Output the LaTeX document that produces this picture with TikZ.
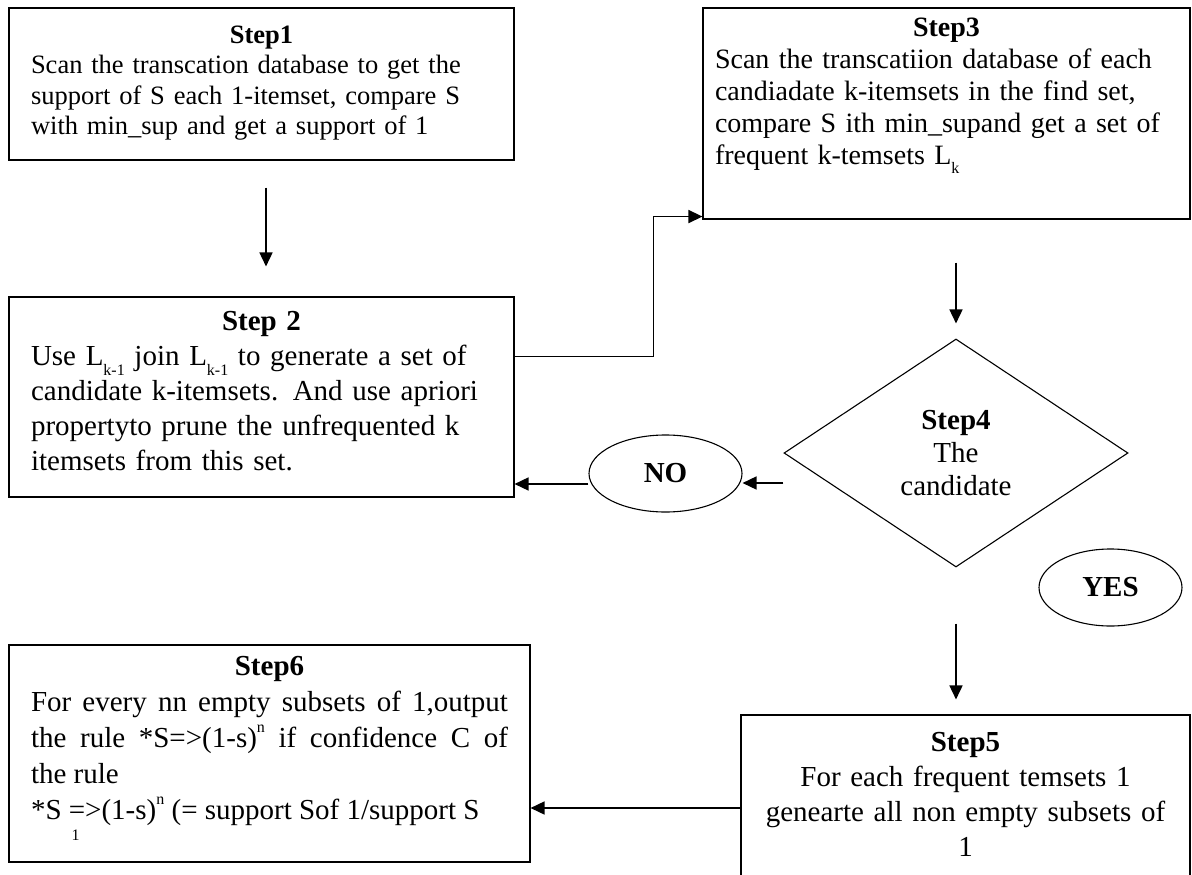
\documentclass[tikz,border=0pt]{standalone}
\usepackage{fontspec}
\setmainfont{Liberation Serif}
\usetikzlibrary{arrows.meta,positioning,shapes.geometric,calc}

\newcommand\boxfont{\fontsize{29}{33}\selectfont}
\newcommand\lsub[1]{\raisebox{-0.33em}{\fontsize{16}{16}\selectfont #1}}
\newcommand\supn{\raisebox{0.52em}{\fontsize{16}{16}\selectfont n}}
\newcommand\steptitle[1]{\hbox to \hsize{\hss\bfseries #1\hss}\\}

\tikzset{
  stepbox/.style={draw, rectangle, line width=1.1pt, inner sep=0pt},
  steptxt/.style={inner sep=0pt, font=\boxfont},
  answer/.style={draw, ellipse, line width=1.1pt, inner sep=0pt, font=\boxfont\bfseries},
  flow/.style={-{Triangle[length=14pt,width=13pt]}, line width=1.6pt},
}

\begin{document}
\begin{tikzpicture}[x=1pt, y=-1pt]
\clip (0,0) rectangle (1192,875);

% left column
\node[stepbox, minimum width=505pt, minimum height=152pt] (s1) at (261.5,84) {};
\node[steptxt, text width=461pt, align=left, font=\fontsize{26.5}{30.5}\selectfont,
      below=18pt of s1.north] (s1txt)
  {\steptitle{Step1}Scan the transcation database to get the\\
   support of S each 1-itemset, compare S\\
   with min\_sup and get a support of 1};

\node[stepbox, minimum width=505pt, minimum height=200pt] (s2) at (261.5,397) {};
\node[steptxt, text width=461pt, align=left, font=\fontsize{29}{35}\selectfont,
      below=15pt of s2.north] (s2txt)
  {\steptitle{Step 2}Use L\lsub{k-1} join L\lsub{k-1} to generate a set of\\
   candidate k-itemsets. And use apriori\\
   propertyto prune the unfrequented k\\
   itemsets from this set.};

\node[stepbox, minimum width=521pt, minimum height=217pt] (s6) at (269.5,753.5) {};
\node[steptxt, text width=477pt, align=justify, font=\fontsize{29}{36}\selectfont,
      below=12pt of s6.north] (s6txt)
  {\steptitle{Step6}\parfillskip=0pt\relax
   For every nn empty subsets of 1,output\linebreak
   the rule *S=>(1-s)\supn{} if confidence C of\linebreak
   the rule\newline
   *S \rlap{\raisebox{-0.72em}{\fontsize{16}{16}\selectfont\,1}}=>(1-s)\supn{} (= support Sof 1/support S};

% right column
\node[stepbox, minimum width=487pt, minimum height=211pt] (s3) at (946.5,113.5) {};
\node[steptxt, text width=463pt, align=left, font=\fontsize{28}{32}\selectfont,
      below=10pt of s3.north] (s3txt)
  {\steptitle{Step3}Scan the transcatiion database of each\\
   candiadate k-itemsets in the find set,\\
   compare S ith min\_supand get a set of\\
   frequent k-temsets L\lsub{k}};

\node[draw, diamond, line width=1.1pt, inner sep=0pt, minimum width=344pt,
      minimum height=228pt, align=center, font=\boxfont] (s4) at (956,453)
  {\textbf{Step4}\\The\\candidate};

\node[answer, minimum width=153pt, minimum height=77pt] (no) at (665.5,473.5) {NO};
\node[answer, minimum width=143pt, minimum height=77pt] (yes) at (1110.5,587.5) {YES};

\node[stepbox, minimum width=449pt, minimum height=190pt] (s5) at (965.5,810) {};
\node[steptxt, text width=430pt, align=center, font=\fontsize{29}{35}\selectfont,
      below=18pt of s5.north] (s5txt)
  {\textbf{Step5}\\For each frequent temsets 1\\genearte all non empty subsets of\\1};

% arrows
\draw[flow] ($(s1.south)+(4.5,27)$) -- ($(s2.north)+(4.5,-30)$);
\draw[flow] ($(s2.north east)+(0,60)$) -| ($(s3.south west)+(-49,-3)$)
            -- ($(s3.south west)+(0,-3)$);
\draw[flow] ($(s3.south -| s4.north)+(0,43)$) -- ($(s4.north)+(0,-15)$);
\draw[flow] ($(s4.west)+(0,30)$) -- ($(no.east)+(0,9.5)$);
\draw[flow] ($(no.west)+(0,10.5)$) -- ($(s2.east)+(0,87)$);
\draw[flow] ($(s4.south)+(0,56)$) -- ($(s5.north -| s4.south)+(0,-15)$);
\draw[flow] ($(s5.west)+(0,-2)$) -- ($(s6.east)+(0,54.5)$);
\end{tikzpicture}
\end{document}
